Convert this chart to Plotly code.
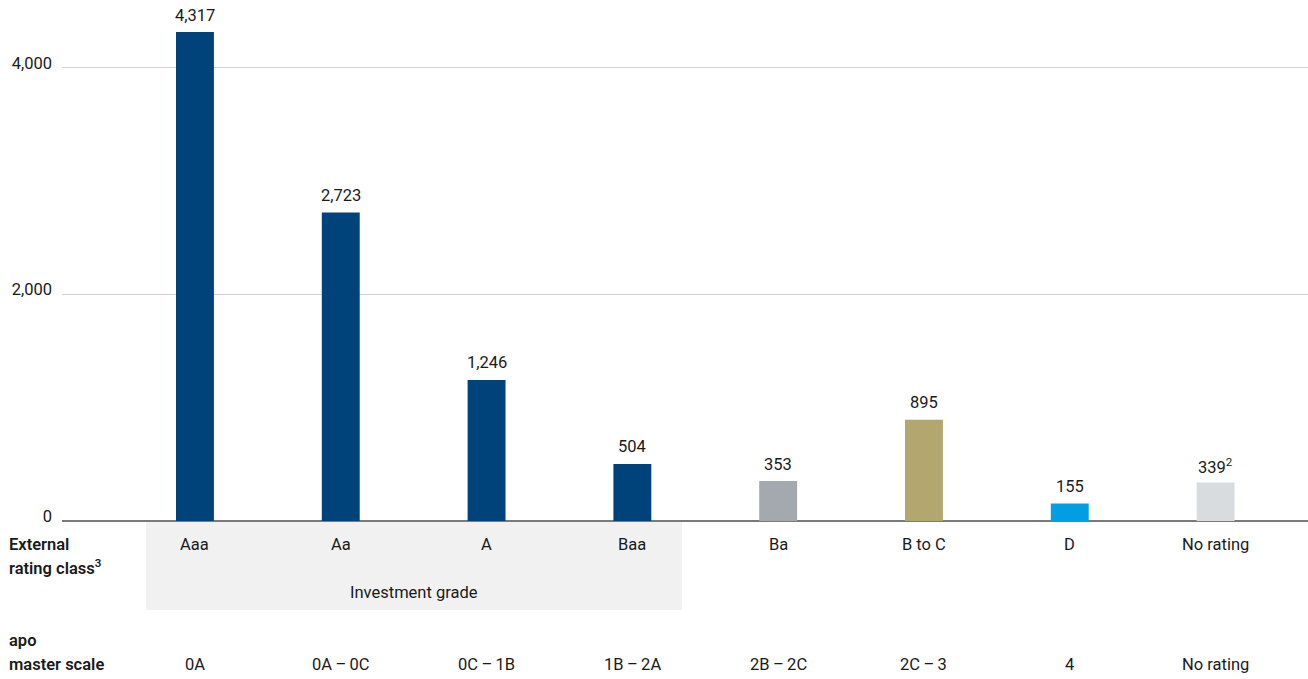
import plotly.graph_objects as go

# Exposure by external rating class, in EUR million
rating_classes = ["Aaa", "Aa", "A", "Baa", "Ba", "B to C", "D", "No rating"]
exposure = [4317, 2723, 1246, 504, 353, 895, 155, 339]
value_notes = ["", "", "", "", "", "", "", "2"]
master_scale = ["0A", "0A\u2009\u2013\u20090C", "0C\u2009\u2013\u20091B", "1B\u2009\u2013\u20092A",
                "2B\u2009\u2013\u20092C", "2C\u2009\u2013\u20093", "4", "No rating"]
bar_colors = ["#00427a", "#00427a", "#00427a", "#00427a",
              "#a3a9af", "#b2a76e", "#009fe3", "#d9dcdf"]
y_ticks = [0, 2000, 4000]
y_tick_text = ["0", "2,000", "4,000"]

FONT = "Roboto"
FS = 16.5
TXT = "#1a1a1a"

L, T, B, W, H = 62, 11, 158, 1308, 679
PLOT_W = W - L
PLOT_H = H - T - B

xs = list(range(len(rating_classes)))

fig = go.Figure()
fig.add_trace(go.Bar(
    x=xs, y=exposure, width=0.26,
    marker=dict(color=bar_colors, line=dict(width=0)),
    hoverinfo="skip", showlegend=False,
))


def px(pixel_x):
    return (pixel_x - L) / PLOT_W


def py(pixel_y):
    return (H - B - pixel_y) / PLOT_H


annotations = []
# value labels above bars
for x, v, note in zip(xs, exposure, value_notes):
    label = f"{v:,}" + (f"<sup>{note}</sup>" if note else "")
    annotations.append(dict(x=x, y=v, xref="x", yref="y", text=label, showarrow=False,
                            yanchor="middle", yshift=17,
                            font=dict(family=FONT, size=FS, color=TXT)))

# category rows below the axis
for x, rc, ms in zip(xs, rating_classes, master_scale):
    annotations.append(dict(x=x, y=py(544), xref="x", yref="paper", text=rc, showarrow=False,
                            yanchor="middle", font=dict(family=FONT, size=FS, color=TXT)))
    annotations.append(dict(x=x, y=py(664), xref="x", yref="paper", text=ms, showarrow=False,
                            yanchor="middle", font=dict(family=FONT, size=FS, color=TXT)))

annotations.append(dict(x=1.5, y=py(592), xref="x", yref="paper", text="Investment grade",
                        showarrow=False, yanchor="middle",
                        font=dict(family=FONT, size=FS, color=TXT)))

# row headings, one annotation per line for wider line spacing
heading_lines = [("External", 544), ("rating class<sup>3</sup>", 567),
                 ("apo", 640), ("master scale", 664)]
for text, ypix in heading_lines:
    annotations.append(dict(x=px(7), y=py(ypix), xref="paper", yref="paper",
                            text=text, showarrow=False,
                            xanchor="left", yanchor="middle", align="left",
                            font=dict(family=FONT, size=FS, color=TXT, weight=600)))

shapes = [
    dict(type="rect", xref="x", yref="paper", x0=-0.336, x1=3.34, y0=py(610), y1=py(522),
         fillcolor="#f1f1f1", line=dict(width=0), layer="below"),
]

fig.update_layout(
    width=W, height=H,
    margin=dict(l=L, r=0, t=T, b=B),
    paper_bgcolor="white", plot_bgcolor="white",
    xaxis=dict(range=[-0.912, 7.634], showticklabels=False, showgrid=False,
               zeroline=False, showline=False, fixedrange=True),
    yaxis=dict(range=[0, 4503], tickvals=y_ticks, ticktext=y_tick_text,
               showgrid=True, gridcolor="#cfd1d3", gridwidth=1,
               zeroline=True, zerolinecolor="#7a7a7a", zerolinewidth=2,
               showline=False, ticks="", ticklabelstandoff=9, ticklabelshift=-5,
               tickfont=dict(family=FONT, size=FS, color=TXT), fixedrange=True),
    annotations=annotations,
    shapes=shapes,
    bargap=0.7,
)

fig.write_html("out.html")
